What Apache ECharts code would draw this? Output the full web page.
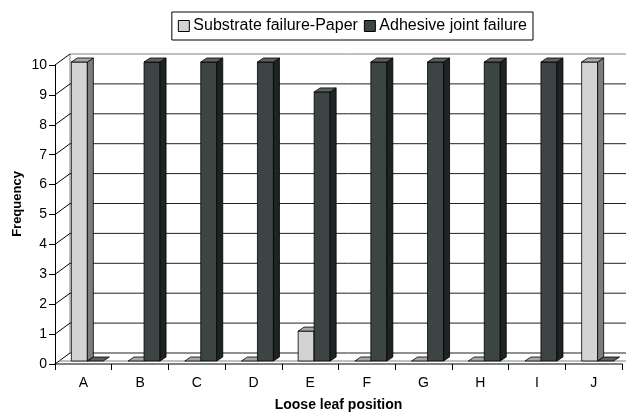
<!DOCTYPE html>
<html>
<head>
<meta charset="utf-8">
<script src="https://cdn.jsdelivr.net/npm/echarts@6/dist/echarts.min.js"></script>
<style>html,body{margin:0;padding:0;background:#fff}#c{width:626px;height:417px}</style>
</head>
<body>
<div id="c"></div>
<script>
const categories = ['A','B','C','D','E','F','G','H','I','J'];
const substratePaper = [10,0,0,0,1,0,0,0,0,10];
const adhesiveJoint = [0,10,10,10,9,10,10,10,10,0];
const yTicks = [0,1,2,3,4,5,6,7,8,9,10];
const seriesNames = ['Substrate failure-Paper','Adhesive joint failure'];

const FONT = 'Liberation Sans, Arial, sans-serif';
const DX = 15, DY = 11;        // wall depth offset
const BDX = 4, BDY = 3;        // bar plane offset
const BW = 16;                 // bar width
const SX = 6, SY = 4;          // bar depth
const palette = [
  {front:'#d3d3d3', side:'#7d7d7d', top:'#a8a8a8'},
  {front:'#3c4544', side:'#1d2423', top:'#59605f'}
];

function barRenderer(sIdx){
  return function(params, api){
    const i = api.value(0), v = api.value(1);
    const p0 = api.coord([i, 0]);
    const pv = api.coord([i, v]);
    const cx = p0[0] + BDX;
    const x0 = sIdx === 0 ? cx - BW : cx;
    const x1 = x0 + BW;
    const yb = p0[1] - BDY;
    const yt = pv[1] - BDY;
    const c = palette[sIdx];
    const ls = {stroke:'#000', lineWidth:0.8};
    const children = [];
    if (v > 0) {
      children.push({type:'rect', shape:{x:x0, y:yt, width:BW, height:yb-yt}, style:Object.assign({fill:c.front}, ls)});
      children.push({type:'polygon', shape:{points:[[x1,yt],[x1+SX,yt-SY],[x1+SX,yb-SY],[x1,yb]]}, style:Object.assign({fill:c.side}, ls)});
    }
    children.push({type:'polygon', shape:{points:[[x0,yt],[x0+SX,yt-SY],[x1+SX,yt-SY],[x1,yt]]}, style:Object.assign({fill:c.top}, ls)});
    return {type:'group', children};
  };
}

function wallRenderer(params, api){
  const v = api.value(1);
  const cs = params.coordSys;
  const left = cs.x, right = cs.x + cs.width;
  const y = api.coord([0, v])[1];
  const children = [
    {type:'line', shape:{x1:left+DX, y1:y-DY, x2:right+DX+20, y2:y-DY}, style:{stroke: v === yTicks[yTicks.length-1] ? '#808080' : '#222', lineWidth:1}},
    {type:'line', shape:{x1:left, y1:y, x2:left+DX, y2:y-DY}, style:{stroke:'#000', lineWidth:1}}
  ];
  if (v === yTicks[0]) {
    const yTop = api.coord([0, yTicks[yTicks.length-1]])[1];
    children.push({type:'line', shape:{x1:left+DX, y1:y-DY, x2:left+DX, y2:yTop-DY}, style:{stroke:'#808080', lineWidth:1}});
    children.push({type:'line', shape:{x1:left+BDX, y1:y-BDY, x2:right+BDX, y2:y-BDY}, style:{stroke:'#808080', lineWidth:1}});
  }
  return {type:'group', children};
}

const chart = echarts.init(document.getElementById('c'), null, {renderer:'canvas'});
chart.setOption({
  animation:false,
  backgroundColor:'#fff',
  textStyle:{fontFamily:FONT},
  legend:{
    right:93, top:12,
    padding:[6,6,6,6],
    borderColor:'#000', borderWidth:1, backgroundColor:'#fff',
    itemWidth:11, itemHeight:11, itemGap:6,
    textStyle:{fontSize:16, color:'#000', fontFamily:FONT, padding:[0,0,0,-1]},
    data:[
      {name:seriesNames[0], icon:'rect', itemStyle:{color:palette[0].front, borderColor:'#000', borderWidth:1}},
      {name:seriesNames[1], icon:'rect', itemStyle:{color:palette[1].front, borderColor:'#000', borderWidth:1}}
    ]
  },
  grid:{left:55, right:4, top:65, bottom:49, containLabel:false},
  xAxis:{
    type:'category', data:categories, boundaryGap:true,
    name:'Loose leaf position', nameLocation:'middle', nameGap:34,
    nameTextStyle:{fontSize:14, fontWeight:'bold', color:'#000', fontFamily:FONT},
    axisLine:{lineStyle:{color:'#808080', width:2}},
    axisTick:{show:true, length:6, interval:0, lineStyle:{color:'#000'}},
    axisLabel:{fontSize:14, color:'#000', margin:12, interval:0, fontFamily:FONT},
    splitLine:{show:false}
  },
  yAxis:{
    type:'value', min:0, max:10, interval:1,
    axisLine:{show:true, lineStyle:{color:'#000', width:1}},
    axisTick:{show:true, length:6, lineStyle:{color:'#000'}},
    axisLabel:{fontSize:14, color:'#000', margin:8, fontFamily:FONT},
    splitLine:{show:false}
  },
  graphic:[{
    type:'text', x:17, y:204, rotation:Math.PI/2,
    style:{text:'Frequency', font:'bold 13px ' + FONT, fill:'#000', textAlign:'center', textVerticalAlign:'middle', align:'center', verticalAlign:'middle'}
  }],
  series:[
    {type:'custom', name:'walls', z:1, clip:false, silent:true, renderItem:wallRenderer,
     data:yTicks.map(v => [0, v]), encode:{x:0, y:1}},
    {type:'custom', name:seriesNames[0], z:3, clip:false, renderItem:barRenderer(0),
     itemStyle:{color:palette[0].front},
     data:substratePaper.map((v,i) => [i, v]), encode:{x:0, y:1}},
    {type:'custom', name:seriesNames[1], z:4, clip:false, renderItem:barRenderer(1),
     itemStyle:{color:palette[1].front},
     data:adhesiveJoint.map((v,i) => [i, v]), encode:{x:0, y:1}}
  ]
});
</script>
</body>
</html>
